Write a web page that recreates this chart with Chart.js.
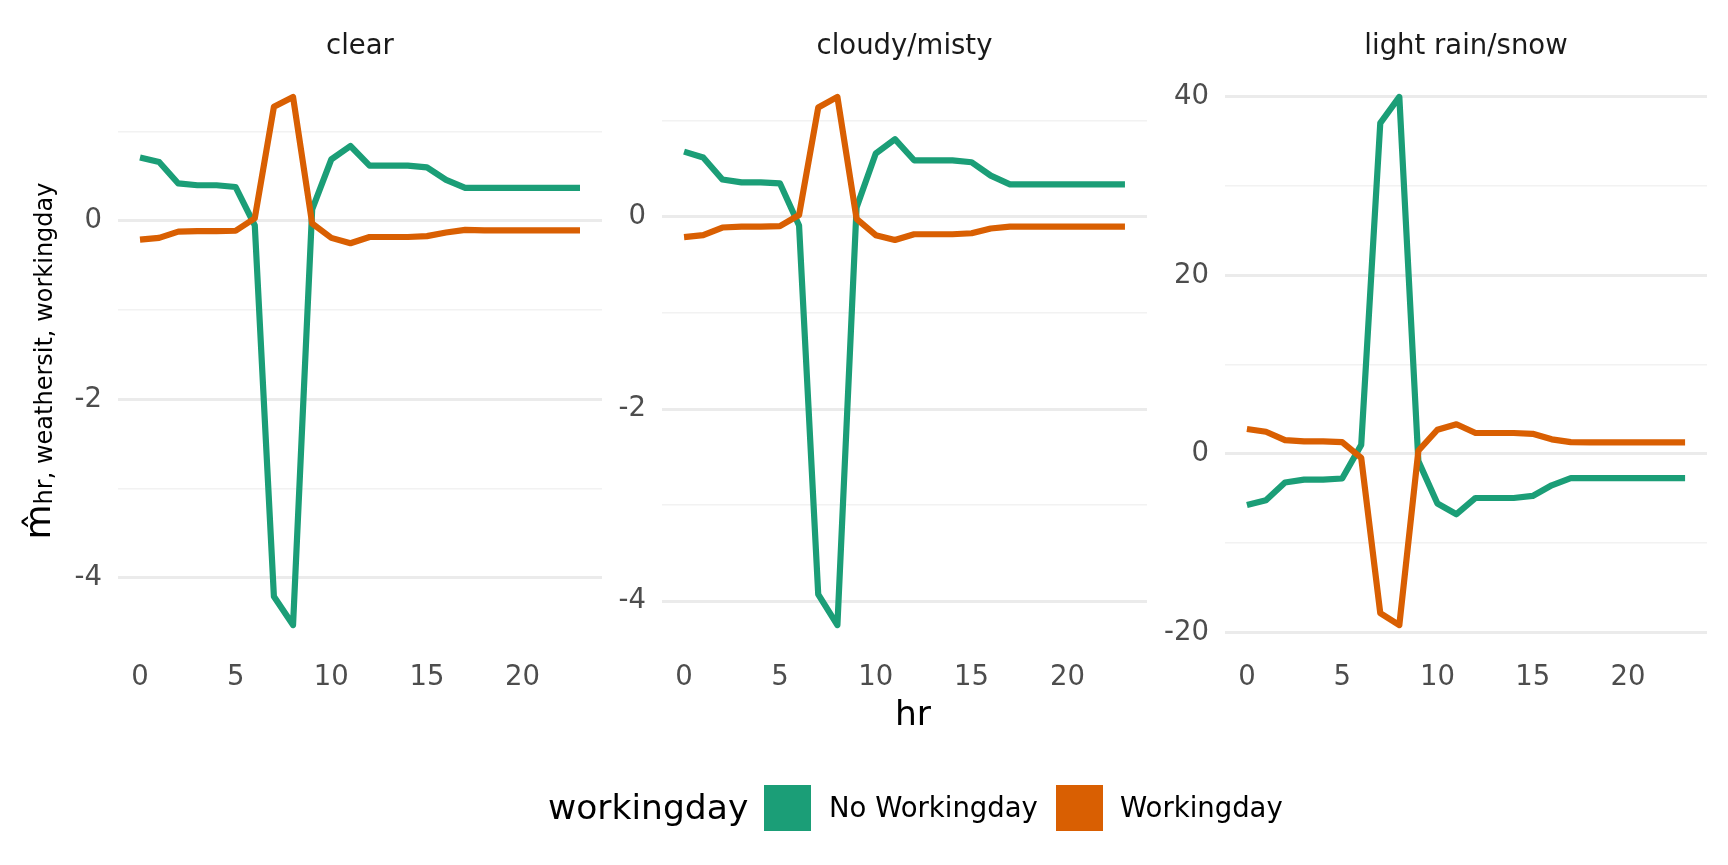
<!DOCTYPE html>
<html><head><meta charset="utf-8">
<script src="https://cdn.jsdelivr.net/npm/chart.js@4.4.1/dist/chart.umd.min.js"></script>
<style>
html,body{margin:0;padding:0;background:#fff;width:1728px;height:865px;overflow:hidden}
canvas{position:absolute;left:0;top:0}
</style></head><body>
<canvas id="c0" width="1728" height="865"></canvas>
<canvas id="c1" width="1728" height="865"></canvas>
<canvas id="c2" width="1728" height="865"></canvas>
<script>
// ---- data ----
const hours = [0,1,2,3,4,5,6,7,8,9,10,11,12,13,14,15,16,17,18,19,20,21,22,23];
const panelTitles = ['clear', 'cloudy/misty', 'light rain/snow'];
const seriesNames = ['No Workingday', 'Workingday'];
const legendTitle = 'workingday';
const xTitle = 'hr';
const yTitleMain = 'm\u0302';
const yTitleSub = 'hr, weathersit, workingday';

const clearNoWork  = [0.71,0.66,0.42,0.40,0.40,0.38,-0.05,-4.21,-4.53,0.13,0.69,0.84,0.62,0.62,0.62,0.60,0.46,0.37,0.37,0.37,0.37,0.37,0.37,0.37];
const clearWork    = [-0.21,-0.19,-0.12,-0.115,-0.115,-0.11,0.03,1.28,1.39,-0.03,-0.19,-0.25,-0.18,-0.18,-0.18,-0.17,-0.13,-0.10,-0.105,-0.105,-0.105,-0.105,-0.105,-0.105];
const cloudyNoWork = [0.68,0.62,0.39,0.36,0.36,0.35,-0.09,-3.93,-4.25,0.10,0.66,0.81,0.59,0.59,0.59,0.57,0.43,0.34,0.34,0.34,0.34,0.34,0.34,0.34];
const cloudyWork   = [-0.21,-0.19,-0.11,-0.10,-0.10,-0.096,0.02,1.14,1.25,-0.02,-0.19,-0.24,-0.18,-0.18,-0.18,-0.17,-0.12,-0.10,-0.10,-0.10,-0.10,-0.10,-0.10,-0.10];
const rainNoWork   = [-5.73,-5.19,-3.20,-2.88,-2.88,-2.75,1.02,37.06,40.0,-0.8,-5.55,-6.75,-4.93,-4.93,-4.93,-4.70,-3.51,-2.71,-2.71,-2.71,-2.71,-2.71,-2.71,-2.71];
const rainWork     = [2.80,2.49,1.55,1.42,1.42,1.33,-0.44,-17.84,-19.17,0.36,2.71,3.33,2.35,2.35,2.35,2.26,1.64,1.33,1.29,1.29,1.29,1.29,1.29,1.29];

const xTicks = [0,5,10,15,20];
const yTicksClear  = [-4,-3,-2,-1,0,1];
const yTicksCloudy = [-4,-3,-2,-1,0,1];
const yTicksRain   = [-20,-10,0,10,20,30,40];
const yLabelsClear  = [-4,-2,0];
const yLabelsCloudy = [-4,-2,0];
const yLabelsRain   = [-20,0,20,40];

// ---- styling / layout ----
const COLORS = ['#1B9E77', '#D95F02'];
const FONT = "'DejaVu Sans', sans-serif";
const SMALL = 27.5, BIG = 34.5;
const W = 1728, H = 865;
const PANEL_TOP = 70.5, PANEL_BOTTOM = 651.5;
const panels = [
  {left: 118, right: 602, series: [clearNoWork, clearWork], yTicks: yTicksClear, yLabels: yLabelsClear},
  {left: 662, right: 1147, series: [cloudyNoWork, cloudyWork], yTicks: yTicksCloudy, yLabels: yLabelsCloudy},
  {left: 1225, right: 1707, series: [rainNoWork, rainWork], yTicks: yTicksRain, yLabels: yLabelsRain}
];
const Y_AXIS_W = 80, X_AXIS_H = 50;

function expand(arrs) {
  let mn = Infinity, mx = -Infinity;
  arrs.forEach(a => a.forEach(v => { mn = Math.min(mn, v); mx = Math.max(mx, v); }));
  const d = (mx - mn) * 0.05;
  return [mn - d, mx + d];
}
const hSpan = hours[hours.length-1] - hours[0];
const xr = [hours[0] - hSpan*0.05, hours[hours.length-1] + hSpan*0.05];

const decor = {
  id: 'decor',
  afterDraw(chart, args, opts) {
    const ctx = chart.ctx, ca = chart.chartArea;
    ctx.save();
    // strip title
    ctx.font = SMALL + 'px ' + FONT;
    ctx.fillStyle = '#1A1A1A';
    ctx.textAlign = 'center';
    ctx.textBaseline = 'middle';
    ctx.fillText(opts.title, (ca.left + ca.right) / 2, 47);

    if (opts.index === 0) {
      // y axis title: m-hat with subscript
      ctx.save();
      ctx.translate(50, (PANEL_TOP + PANEL_BOTTOM) / 2);
      ctx.rotate(-Math.PI / 2);
      ctx.textAlign = 'left';
      ctx.textBaseline = 'alphabetic';
      ctx.fillStyle = '#000';
      ctx.font = '36px ' + FONT;
      const wm = ctx.measureText(yTitleMain).width;
      ctx.font = '24px ' + FONT;
      const ws = ctx.measureText(yTitleSub).width;
      const x0 = -(wm + ws) / 2;
      ctx.font = '36px ' + FONT;
      ctx.fillText(yTitleMain, x0, 0);
      ctx.font = '24px ' + FONT;
      ctx.fillText(yTitleSub, x0 + wm, 2);
      ctx.restore();
    }
    if (opts.index === 2) {
      // x title
      ctx.fillStyle = '#000';
      ctx.textAlign = 'center';
      ctx.textBaseline = 'middle';
      ctx.font = BIG + 'px ' + FONT;
      ctx.fillText(xTitle, 913, 716);
      // legend
      ctx.textAlign = 'left';
      ctx.fillText(legendTitle, 548, 810);
      const boxes = [764, 1056];
      const labelsX = [829, 1120];
      ctx.font = SMALL + 'px ' + FONT;
      seriesNames.forEach((n, i) => {
        ctx.fillStyle = COLORS[i];
        ctx.fillRect(boxes[i], 785, 47, 46);
        ctx.fillStyle = '#000';
        ctx.fillText(n, labelsX[i], 810);
      });
    }
    ctx.restore();
  }
};

panels.forEach((p, idx) => {
  const yr = expand(p.series);
  new Chart(document.getElementById('c' + idx), {
    type: 'line',
    data: {
      labels: hours,
      datasets: p.series.map((s, i) => ({
        label: seriesNames[i],
        data: hours.map((h, k) => ({x: h, y: s[k]})),
        borderColor: COLORS[i],
        backgroundColor: COLORS[i],
        borderWidth: 6.2,
        pointRadius: 0,
        tension: 0,
        fill: false,
        borderJoinStyle: 'round',
        borderCapStyle: 'butt',
        order: 1 - i
      }))
    },
    options: {
      responsive: false,
      devicePixelRatio: 1,
      animation: false,
      layout: {padding: {left: p.left - Y_AXIS_W, right: W - p.right, top: PANEL_TOP, bottom: H - PANEL_BOTTOM - X_AXIS_H}},
      plugins: {
        legend: {display: false},
        tooltip: {enabled: false},
        decor: {title: panelTitles[idx], index: idx}
      },
      scales: {
        x: {
          type: 'linear', min: xr[0], max: xr[1],
          afterBuildTicks: s => { s.ticks = xTicks.map(v => ({value: v})); },
          afterFit: s => { s.height = X_AXIS_H; },
          grid: {display: false, drawTicks: false},
          border: {display: false},
          ticks: {color: '#4D4D4D', font: {family: FONT, size: SMALL}, padding: 10, maxRotation: 0, autoSkip: false}
        },
        y: {
          type: 'linear', min: yr[0], max: yr[1],
          afterBuildTicks: s => { s.ticks = p.yTicks.map(v => ({value: v})); },
          afterFit: s => { s.width = Y_AXIS_W; },
          grid: {
            drawTicks: false,
            color: c => p.yLabels.includes(c.tick.value) ? '#EBEBEB' : '#F2F2F2',
            lineWidth: c => p.yLabels.includes(c.tick.value) ? 3 : 1.5
          },
          border: {display: false},
          ticks: {
            color: '#4D4D4D', font: {family: FONT, size: SMALL}, padding: 16, autoSkip: false,
            callback: v => p.yLabels.includes(v) ? String(v) : ''
          }
        }
      }
    },
    plugins: [decor]
  });
});
</script>
</body></html>
